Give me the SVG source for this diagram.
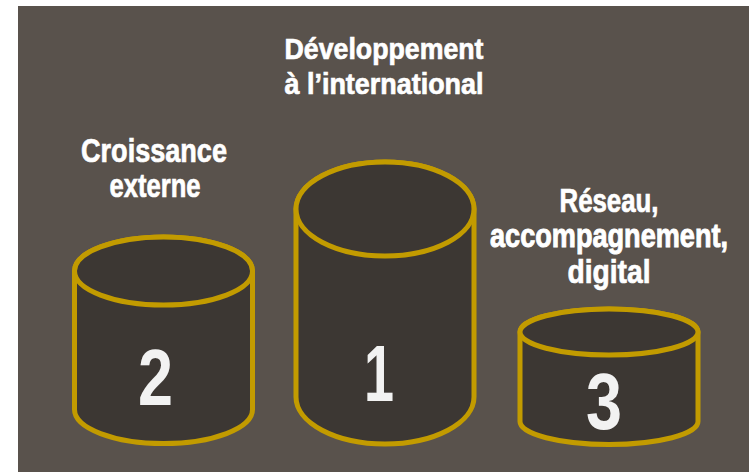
<svg xmlns="http://www.w3.org/2000/svg" width="749" height="472" viewBox="0 0 749 472">
<style>
.cyl{fill:#3c3733;stroke:#c29b00;stroke-width:5}
.lbl{font-family:"Liberation Sans",Arial,sans-serif;font-weight:bold;fill:#ffffff;stroke:#ffffff;stroke-width:0.7;text-anchor:middle}
.num{font-family:"Liberation Sans",Arial,sans-serif;font-weight:bold;fill:#f2f2f2;text-anchor:middle;font-size:80px}
</style>
<rect x="0" y="0" width="749" height="472" fill="#ffffff"/>
<rect x="18" y="6" width="731" height="466" fill="#59524c"/>
<g id="connectors"/>
<g id="node-1">
<path class="cyl" d="M296,209 V397 A89,47 0 0 0 474,397 V209 A89,47 0 0 0 296,209 Z"/>
<ellipse class="cyl" cx="385" cy="209" rx="89" ry="47"/>
<text class="num" x="379" y="401" textLength="30" lengthAdjust="spacingAndGlyphs">1</text>
</g>
<g id="node-2">
<path class="cyl" d="M74.5,271 V409.5 A89,34 0 0 0 252.5,409.5 V271 A89,34 0 0 0 74.5,271 Z"/>
<ellipse class="cyl" cx="163.5" cy="271" rx="89" ry="34"/>
<text class="num" x="155.5" y="405" textLength="35" lengthAdjust="spacingAndGlyphs">2</text>
</g>
<g id="node-3">
<path class="cyl" d="M520,332 V421.5 A89,23 0 0 0 698,421.5 V332 A89,23 0 0 0 520,332 Z"/>
<ellipse class="cyl" cx="609" cy="332" rx="89" ry="23"/>
<text class="num" x="604" y="429" textLength="36" lengthAdjust="spacingAndGlyphs">3</text>
</g>
<g id="label-1">
<text class="lbl" x="384" y="59" font-size="30" textLength="199" lengthAdjust="spacingAndGlyphs">Développement</text>
<text class="lbl" x="384" y="94" font-size="30" textLength="199" lengthAdjust="spacingAndGlyphs">à l’international</text>
</g>
<g id="label-2">
<text class="lbl" x="154" y="162" font-size="33" textLength="146" lengthAdjust="spacingAndGlyphs">Croissance</text>
<text class="lbl" x="155" y="197" font-size="33" textLength="91" lengthAdjust="spacingAndGlyphs">externe</text>
</g>
<g id="label-3">
<text class="lbl" x="609" y="212" font-size="33" textLength="99" lengthAdjust="spacingAndGlyphs">Réseau,</text>
<text class="lbl" x="0" y="0" font-size="25" stroke-width="0.55" transform="translate(609,247) scale(1,1.32)" textLength="238" lengthAdjust="spacingAndGlyphs">accompagnement,</text>
<text class="lbl" x="609" y="283" font-size="33" textLength="83" lengthAdjust="spacingAndGlyphs">digital</text>
</g>
</svg>
